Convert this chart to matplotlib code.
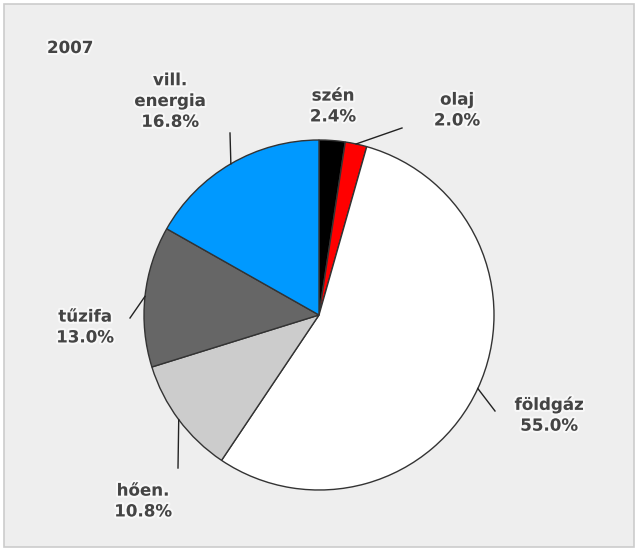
import numpy as np
import matplotlib.pyplot as plt
import matplotlib.patheffects as pe
from matplotlib.patches import Rectangle

# 2007-es energiafelhasználás megoszlása
year = '2007'
labels = ['szén', 'olaj', 'földgáz', 'hően.', 'tűzifa', 'vill.\nenergia']
shares = [2.4, 2.0, 55.0, 10.8, 13.0, 16.8]
colors = ['#000000', '#ff0000', '#ffffff', '#cccccc', '#666666', '#0099ff']

# label centres and leader line ends (pixels from top-left)
label_pos = [(333, 106), (457, 110), (549, 415), (143, 501), (85, 327), (170, 101)]
leader_end = [None, (402, 128), (495, 411), (178, 468), (130, 318), (230, 133)]

W, H = 637, 550
fig = plt.figure(figsize=(W / 100, H / 100), dpi=100)
fig.patch.set_facecolor('white')
ax = fig.add_axes([0, 0, 1, 1])
ax.set_xlim(0, W)
ax.set_ylim(0, H)
ax.set_aspect('equal')
ax.axis('off')

# panel
ax.add_patch(Rectangle((4, 3), 630, 543, facecolor='#eeeeee', edgecolor='#cccccc', lw=1.2))

cx, cy, r = 319, H - 315, 175
wedges, _ = ax.pie(shares, colors=colors, startangle=90, counterclock=False,
                   center=(cx, cy), radius=r, frame=True,
                   wedgeprops=dict(edgecolor='#333333', linewidth=1.0))
ax.set_xlim(0, W)
ax.set_ylim(0, H)
ax.axis('off')

glow = [pe.withStroke(linewidth=3, foreground='white', alpha=0.6)]
txt = dict(fontsize=12, fontweight='bold', color='#444444', ha='center',
           va='center', linespacing=1.2, path_effects=glow)

for w, lab, val, pos, end in zip(wedges, labels, shares, label_pos, leader_end):
    ax.text(pos[0], H - pos[1], f'{lab}\n{val:.1f}%', **txt)
    if end is not None:
        mid = np.deg2rad((w.theta1 + w.theta2) / 2)
        sx, sy = cx + r * np.cos(mid), cy + r * np.sin(mid)
        ax.plot([sx, end[0]], [sy, H - end[1]], color='#222222', lw=1.0)

ax.text(47, H - 48, year, fontsize=12, fontweight='bold', color='#444444',
        ha='left', va='center', path_effects=glow)

fig.savefig('out.png', dpi=100, facecolor=fig.get_facecolor())
